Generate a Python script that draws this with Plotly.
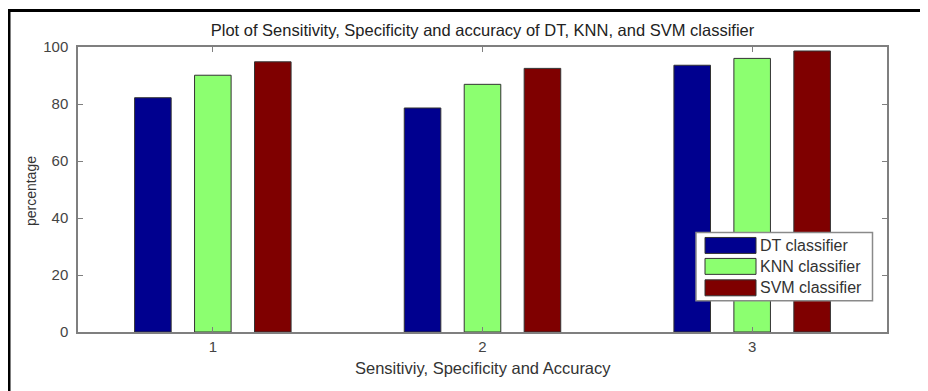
import plotly.graph_objects as go

categories = [1, 2, 3]
series_names = ["DT classifier", "KNN classifier", "SVM classifier"]
dt_values = [82.2, 78.6, 93.6]
knn_values = [90.1, 86.9, 96.0]
svm_values = [94.8, 92.5, 98.6]
colors = ["#00008F", "#8CFF70", "#7F0000"]

title_text = "Plot of Sensitivity, Specificity and accuracy of DT, KNN, and SVM classifier"
x_title = "Sensitiviy, Specificity and Accuracy"
y_title = "percentage"

W, H = 928, 391
OFF = 8  # page body margin of the html page
# plot box in viewport pixels: x 78..887, y 46.5..332.3
L = 78 - OFF
T = 46.5 - OFF
R = W - (887 - OFF)
B = H - (332.3 - OFF)
FONT = "Liberation Sans, Arial, sans-serif"

fig = go.Figure()
for name, vals, col in zip(series_names, [dt_values, knn_values, svm_values], colors):
    fig.add_trace(go.Bar(
        x=categories, y=vals, name=name, marker_color=col,
        marker_line_color="#333333", marker_line_width=1,
        showlegend=False,
    ))

pw = W - L - R
ph = H - T - B


def px(xv):
    return (xv - OFF - L) / pw


def py(yv):
    return (H - B - (yv - OFF)) / ph


shapes = [
    dict(type="rect", xref="paper", yref="paper", x0=px(9), x1=px(960), y0=py(430), y1=py(10),
         line=dict(color="black", width=3), layer="above"),
    dict(type="rect", xref="paper", yref="paper", x0=px(696), x1=px(872.5), y0=py(301), y1=py(232.5),
         line=dict(color="#8a8a8a", width=1.5), fillcolor="white", layer="above"),
]
annotations = []
row_tops = [237.5, 258.5, 280]
for name, col, top in zip(series_names, colors, row_tops):
    shapes.append(dict(type="rect", xref="paper", yref="paper", x0=px(705), x1=px(756),
                       y0=py(top + 16), y1=py(top), fillcolor=col,
                       line=dict(color="#333333", width=1), layer="above"))
    annotations.append(dict(xref="paper", yref="paper", x=px(758), y=py(top + 8), text=name,
                            showarrow=False, xanchor="left", yanchor="middle",
                            font=dict(family=FONT, size=16, color="#333333")))

annotations.append(dict(xref="paper", yref="paper", x=0.5, y=py(368), text=x_title,
                        showarrow=False, xanchor="center", yanchor="middle",
                        font=dict(family=FONT, size=16.5, color="#333333")))
annotations.append(dict(xref="paper", yref="paper", x=px(31), y=py(191), text=y_title, textangle=-90,
                        showarrow=False, xanchor="center", yanchor="middle",
                        font=dict(family=FONT, size=14, color="#333333")))

fig.update_layout(
    width=W, height=H,
    margin=dict(l=L, r=R, t=T, b=B),
    paper_bgcolor="white", plot_bgcolor="white",
    barmode="group", bargap=0.333, bargroupgap=0.39,
    font=dict(family=FONT, size=15, color="#333333"),
    title=dict(text=title_text, x=(L + pw / 2) / W, xanchor="center", y=1 - (30 - OFF) / H, yanchor="middle",
               font=dict(family=FONT, size=16.5, color="#222222")),
    shapes=shapes, annotations=annotations,
)
fig.update_xaxes(
    range=[0.5, 3.5], tickvals=categories, ticktext=[str(c) for c in categories],
    showgrid=False, zeroline=False, showline=True, linecolor="#7f7f7f", linewidth=1.5,
    mirror="ticks", ticks="inside", ticklen=5, tickcolor="#7f7f7f", tickwidth=1,
    tickfont=dict(size=15, color="#444444"), ticklabelstandoff=0,
)
fig.update_yaxes(
    range=[0, 100], tickvals=[0, 20, 40, 60, 80, 100],
    showgrid=False, zeroline=False, showline=True, linecolor="#7f7f7f", linewidth=1.5,
    mirror="ticks", ticks="inside", ticklen=5, tickcolor="#7f7f7f", tickwidth=1,
    tickfont=dict(size=15, color="#444444"), ticklabelstandoff=5,
)

fig.write_html("out.html")
